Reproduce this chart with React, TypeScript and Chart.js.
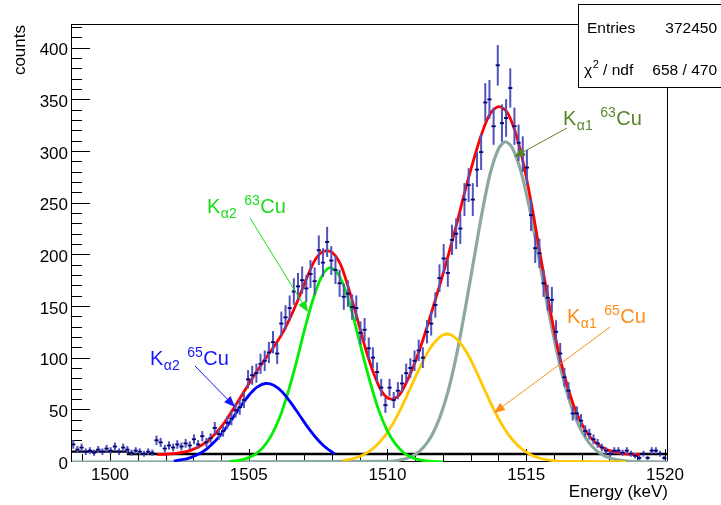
import React, { useEffect, useRef } from "react";
import { Chart, registerables } from "chart.js";
Chart.register(...registerables);

// ---------- histogram ----------
const BIN_LOW = 1498.6;
const BIN_WIDTH = 0.15;
const COUNTS = [
  17, 12, 14, 10, 11, 9, 12, 10, 13, 11,
  15, 10, 14, 12, 9, 11, 10, 8, 10, 9,
  21, 19, 13, 16, 14, 17, 15, 18, 16, 22,
  17, 25, 19, 23, 33, 27, 30, 38, 42, 50,
  53, 60, 80, 84, 86, 95, 98, 106, 116, 105,
  134, 140, 149, 165, 170, 176, 168, 182, 175, 205,
  193, 213, 195, 186, 173, 160, 163, 150, 149, 125,
  128, 110, 101, 87, 72, 55, 72, 60, 69, 76,
  86, 91, 98, 108, 101, 126, 134, 152, 178, 197,
  183, 215, 221, 226, 254, 268, 254, 283, 300, 348,
  351, 325, 384, 328, 333, 362, 325, 309, 298, 285,
  239, 207, 202, 173, 159, 157, 126, 105, 82, 69,
  47, 47, 40, 30, 27, 22, 18, 14, 11, 8,
  11, 11, 9, 11, 8, 6, 4, 8, 4, 11,
  11, 8, 4,
];

// ---------- fit curves ----------
const TOTAL_X = [
  1501.7, 1502.0, 1502.3, 1502.6, 1502.9, 1503.2, 1503.5, 1503.8, 1504.1, 1504.4,
  1504.7, 1505.0, 1505.3, 1505.6, 1505.9, 1506.2, 1506.5, 1506.8, 1507.1, 1507.4,
  1507.7, 1508.0, 1508.3, 1508.6, 1508.9, 1509.2, 1509.5, 1509.8, 1510.1, 1510.4,
  1510.7, 1511.0, 1511.3, 1511.6, 1511.9, 1512.2, 1512.5, 1512.8, 1513.1, 1513.4,
  1513.7, 1514.0, 1514.3, 1514.6, 1514.9, 1515.2, 1515.5, 1515.8, 1516.1, 1516.4,
  1516.7, 1517.0, 1517.3, 1517.6, 1517.9, 1518.2, 1518.5, 1518.8, 1519.1,
];
const TOTAL_Y = [
  7.2, 7.5, 8.1, 9.2, 11.3, 14.7, 20, 27.6, 37.3, 49.5,
  62.5, 75.6, 88.1, 100, 111.3, 124, 140, 158.5, 178.7, 196,
  204, 203, 191.7, 168, 140, 110.6, 86, 68, 61, 64,
  78, 97, 120, 146, 172.6, 201, 231, 263, 292, 318,
  337, 344, 339, 320, 289, 248, 201.6, 156, 115, 81.4,
  55.5, 36.9, 24.4, 16.5, 12, 9.5, 8.2, 7.5, 7.2,
];

const KA2_65_X = [
  1502.3, 1502.6, 1502.9, 1503.2, 1503.5, 1503.8, 1504.1, 1504.4, 1504.7, 1505.0,
  1505.3, 1505.6, 1505.9, 1506.2, 1506.5, 1506.8, 1507.1, 1507.4, 1507.7, 1508.0, 1508.1,
];
const KA2_65_Y = [
  1.1, 2.2, 4.3, 7.7, 13, 20.5, 30, 41.7, 53.6, 64.4,
  72.4, 76, 74.3, 68, 58, 46.5, 34.7, 24.2, 15.8, 9.6, 8,
];

const KA2_63_X = [
  1504.3, 1504.6, 1504.9, 1505.2, 1505.5, 1505.8, 1506.1, 1506.4, 1506.7, 1507.0,
  1507.3, 1507.6, 1507.9, 1508.2, 1508.5, 1508.8, 1509.1, 1509.4, 1509.7, 1510.0,
  1510.3, 1510.6, 1510.9, 1511.2, 1511.5, 1512.0,
];
const KA2_63_Y = [
  0.6, 1.4, 3.3, 6.9, 13.7, 25, 42, 66, 95, 127,
  156, 178, 188, 183, 165, 137, 105, 75, 49, 30,
  17, 8.7, 4.2, 1.9, 0.8, 0,
];

const KA1_65_X = [
  1508.4, 1508.7, 1509.0, 1509.3, 1509.6, 1509.9, 1510.2, 1510.5, 1510.8, 1511.1,
  1511.4, 1511.7, 1512.0, 1512.3, 1512.6, 1512.9, 1513.2, 1513.5, 1513.8, 1514.1,
  1514.4, 1514.7, 1515.0, 1515.3, 1515.6, 1515.9, 1516.2, 1518.6,
];
const KA1_65_Y = [
  1.5, 2.9, 5.4, 9.6, 16, 25, 37.4, 52.6, 69.9, 87.7,
  103.9, 116, 123, 123, 116, 104, 87.7, 69.9, 52.6, 37.4,
  25, 16, 9.6, 5.4, 2.9, 1.5, 0.7, 0,
];

const KA1_63_X = [
  1498.63, 1510.1, 1510.4, 1510.7, 1511.0, 1511.3, 1511.6, 1511.9, 1512.2, 1512.5,
  1512.8, 1513.1, 1513.4, 1513.7, 1514.0, 1514.25, 1514.5, 1514.8, 1515.1, 1515.4,
  1515.7, 1516.0, 1516.3, 1516.6, 1516.9, 1517.2, 1517.5, 1517.8, 1518.1, 1518.4,
  1518.7, 1520.11,
];
const KA1_63_Y = [
  0, 0.7, 1.7, 3.6, 7.4, 14.3, 26, 44, 70, 105,
  148, 194, 240, 279, 303, 310, 304, 282, 248, 206,
  161, 120, 84, 56, 35, 21, 11.8, 6.3, 3.1, 1.5,
  0.7, 0,
];

const BKG_X = [1498.63, 1500.65, 1500.65, 1520.11];
const BKG_Y = [10, 10, 7.7, 7.7];

// ---------- axes ----------
const X_MIN = 1498.63;
const X_MAX = 1520.11;
const Y_MIN = 0;
const Y_MAX = 423;
const X_LABELS = [1500, 1505, 1510, 1515, 1520];
const Y_LABELS = [0, 50, 100, 150, 200, 250, 300, 350, 400];
const X_MINOR_STEP = 1;
const Y_MINOR_STEP = 10;

const STATS = [
  ["Entries", "372450"],
  ["χ2 / ndf", "658 / 470"],
];

const FONT = "'Liberation Sans', Arial, Helvetica, sans-serif";

const toPts = (xs: number[], ys: number[]) => xs.map((x, i) => ({ x, y: ys[i] }));

function arrow(ctx: CanvasRenderingContext2D, x1: number, y1: number, x2: number, y2: number, color: string) {
  const ang = Math.atan2(y2 - y1, x2 - x1);
  const L = 11, W = 4.5;
  const bx = x2 - L * Math.cos(ang), by = y2 - L * Math.sin(ang);
  ctx.strokeStyle = color;
  ctx.fillStyle = color;
  ctx.lineWidth = 1;
  ctx.beginPath();
  ctx.moveTo(x1, y1);
  ctx.lineTo(bx, by);
  ctx.stroke();
  ctx.beginPath();
  ctx.moveTo(x2, y2);
  ctx.lineTo(bx + W * Math.sin(ang), by - W * Math.cos(ang));
  ctx.lineTo(bx - W * Math.sin(ang), by + W * Math.cos(ang));
  ctx.closePath();
  ctx.fill();
}

function kLabel(ctx: CanvasRenderingContext2D, x: number, y: number, sub: string, sup: string, color: string) {
  ctx.fillStyle = color;
  ctx.textAlign = "left";
  ctx.textBaseline = "alphabetic";
  ctx.font = `20px ${FONT}`;
  ctx.fillText("K", x, y);
  let cx = x + ctx.measureText("K").width + 0.5;
  ctx.font = `14px ${FONT}`;
  ctx.fillText(sub, cx, y + 5);
  cx += ctx.measureText(sub).width + 7.5;
  ctx.fillText(sup, cx, y - 8);
  cx += ctx.measureText(sup).width + 0.5;
  ctx.font = `20px ${FONT}`;
  ctx.fillText("Cu", cx, y);
}

const rootPlugin = {
  id: "rootStyle",
  beforeDatasetsDraw(chart: any) {
    const { ctx, chartArea: a, scales } = chart;
    const xs = scales.x, ys = scales.y;
    ctx.save();
    ctx.strokeStyle = "#000";
    ctx.lineWidth = 1;
    ctx.strokeRect(a.left - 0.5, a.top - 0.5, a.right - a.left, a.bottom - a.top);
    ctx.beginPath();
    for (let v = Y_MIN; v <= Y_MAX; v += Y_MINOR_STEP) {
      const y = Math.round(ys.getPixelForValue(v)) - 0.5;
      const len = v % 50 === 0 ? 18 : 10;
      ctx.moveTo(a.left, y);
      ctx.lineTo(a.left + len, y);
    }
    for (let v = Math.ceil(X_MIN); v <= X_MAX; v += X_MINOR_STEP) {
      const x = Math.round(xs.getPixelForValue(v)) + 0.5;
      const len = v % 5 === 0 ? 13 : 8;
      ctx.moveTo(x, a.bottom);
      ctx.lineTo(x, a.bottom - len);
    }
    ctx.stroke();
    ctx.fillStyle = "#000";
    ctx.font = `17px ${FONT}`;
    ctx.textAlign = "right";
    ctx.textBaseline = "alphabetic";
    Y_LABELS.forEach((v) => ctx.fillText(String(v), a.left - 4, ys.getPixelForValue(v) + 6.5));
    ctx.textAlign = "center";
    X_LABELS.forEach((v) => ctx.fillText(String(v), xs.getPixelForValue(v), 480));
    ctx.textAlign = "right";
    ctx.fillText("Energy (keV)", a.right, 496.5);
    ctx.save();
    ctx.translate(24.5, a.top);
    ctx.rotate(-Math.PI / 2);
    ctx.textAlign = "right";
    ctx.fillText("counts", 0, 0);
    ctx.restore();
    ctx.restore();
  },
  afterDatasetsDraw(chart: any) {
    const { ctx, chartArea: a, scales } = chart;
    const xs = scales.x, ys = scales.y;
    const meta = chart.getDatasetMeta(0);
    ctx.save();
    ctx.beginPath();
    ctx.rect(a.left, a.top, a.right - a.left, a.bottom - a.top);
    ctx.clip();
    meta.data.forEach((el: any, i: number) => {
      const c = COUNTS[i];
      const e = Math.sqrt(c);
      const yt = ys.getPixelForValue(c + e);
      const yb = ys.getPixelForValue(Math.max(c - e, 0));
      const xl = xs.getPixelForValue(BIN_LOW + i * BIN_WIDTH);
      const xr = xs.getPixelForValue(BIN_LOW + (i + 1) * BIN_WIDTH);
      ctx.strokeStyle = "#5252bb";
      ctx.lineWidth = 2;
      ctx.beginPath();
      ctx.moveTo(el.x, yt);
      ctx.lineTo(el.x, yb);
      ctx.stroke();
      ctx.strokeStyle = "#000078";
      ctx.lineWidth = 1.8;
      ctx.beginPath();
      ctx.moveTo(xl, el.y);
      ctx.lineTo(xr, el.y);
      ctx.stroke();
    });
    ctx.restore();
  },
  afterDraw(chart: any) {
    const { ctx } = chart;
    ctx.save();
    // annotations
    kLabel(ctx, 207, 213, "α2", "63", "#18dd18");
    arrow(ctx, 250, 218, 308, 312, "#18dd18");
    kLabel(ctx, 150, 365, "α2", "65", "#1515ff");
    arrow(ctx, 195, 366, 235, 407, "#1515ff");
    kLabel(ctx, 567, 323, "α1", "65", "#ff8c1a");
    arrow(ctx, 610, 327, 494, 413, "#ff8c1a");
    kLabel(ctx, 563, 125, "α1", "63", "#5a8526");
    arrow(ctx, 567, 128, 514, 157, "#5a8526");
    // stats box
    ctx.fillStyle = "#fff";
    ctx.fillRect(578, 4, 150, 84);
    ctx.strokeStyle = "#000";
    ctx.lineWidth = 1;
    ctx.strokeRect(578.5, 4.5, 150, 83);
    ctx.fillStyle = "#000";
    ctx.font = `15.5px ${FONT}`;
    ctx.textBaseline = "alphabetic";
    ctx.textAlign = "left";
    ctx.fillText(STATS[0][0], 587, 33);
    ctx.textAlign = "right";
    ctx.fillText(STATS[0][1], 717, 33);
    ctx.fillText(STATS[1][1], 717, 75);
    ctx.textAlign = "left";
    let cx = 584;
    ctx.fillText("χ", cx, 75);
    cx += ctx.measureText("χ").width + 0.5;
    ctx.font = `11px ${FONT}`;
    ctx.fillText("2", cx, 68);
    cx += ctx.measureText("2").width;
    ctx.font = `15.5px ${FONT}`;
    ctx.fillText(" / ndf", cx, 75);
    ctx.restore();
  },
};

export default function App() {
  const ref = useRef<HTMLCanvasElement | null>(null);
  useEffect(() => {
    document.body.style.margin = "0";
    const canvas = ref.current!;
    const line = (xs: number[], ys: number[], color: string, width: number, order: number) => ({
      data: toPts(xs, ys),
      showLine: true,
      borderColor: color,
      borderWidth: width,
      pointRadius: 0,
      tension: 0.3,
      fill: false,
      order,
    });
    const chart = new Chart(canvas, {
      type: "scatter",
      data: {
        datasets: [
          {
            data: COUNTS.map((c, i) => ({ x: BIN_LOW + (i + 0.5) * BIN_WIDTH, y: c })),
            showLine: false,
            pointRadius: 0,
            order: 0,
          } as any,
          line(TOTAL_X, TOTAL_Y, "#ff0000", 2.8, 1),
          line(KA2_65_X, KA2_65_Y, "#0000ff", 2.8, 2),
          line(KA2_63_X, KA2_63_Y, "#00ee00", 2.8, 3),
          line(KA1_65_X, KA1_65_Y, "#ffc800", 2.8, 4),
          line(KA1_63_X, KA1_63_Y, "#8ca8a2", 3.2, 5),
          { ...line(BKG_X, BKG_Y, "#000000", 2.4, 6), tension: 0 },
        ],
      },
      options: {
        animation: false,
        responsive: false,
        devicePixelRatio: 1,
        layout: { padding: { left: 72, right: 53, top: 25, bottom: 43 } },
        plugins: { legend: { display: false }, tooltip: { enabled: false } },
        scales: {
          x: { type: "linear", min: X_MIN, max: X_MAX, display: false },
          y: { type: "linear", min: Y_MIN, max: Y_MAX, display: false },
        },
      },
      plugins: [rootPlugin],
    });
    return () => chart.destroy();
  }, []);
  return (
    <div style={{ position: "fixed", left: 0, top: 0, width: 721, height: 505, background: "#fff" }}>
      <canvas ref={ref} width={721} height={505} style={{ width: 721, height: 505, display: "block" }} />
    </div>
  );
}
